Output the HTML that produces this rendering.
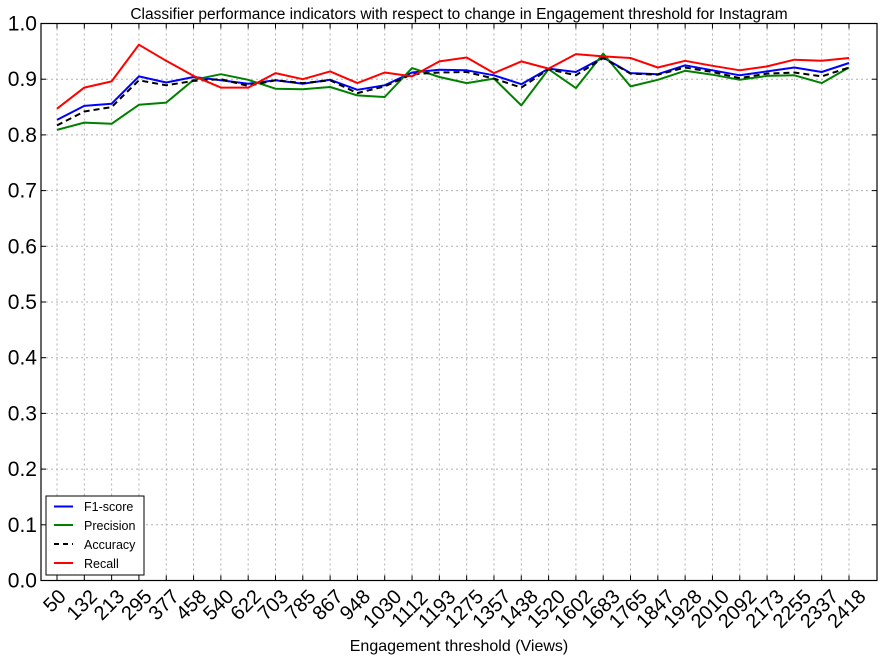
<!DOCTYPE html>
<html><head><meta charset="utf-8"><style>
body{margin:0;background:#fff;}
svg text{font-family:"Liberation Sans",sans-serif;}
</style></head><body>
<svg id="chart" width="884" height="660" xmlns="http://www.w3.org/2000/svg">
<rect width="884" height="660" fill="#fff"/>
<text x="459" y="19" font-size="15.5" text-anchor="middle">Classifier performance indicators with respect to change in Engagement threshold for Instagram</text>
<g id="grid"></g>
<g id="series"></g>
<rect x="41" y="23.5" width="836" height="557" fill="none" stroke="#000" stroke-width="1.2"/>
<g id="ticks"></g>
<text x="459" y="651" font-size="16" text-anchor="middle">Engagement threshold (Views)</text>
<g>
<rect x="46" y="496" width="98" height="79" fill="#fff" stroke="#000" stroke-width="1"/>
<line x1="54" y1="506.5" x2="73" y2="506.5" stroke="#0000ff" stroke-width="2"/>
<text x="84" y="511" font-size="12.5">F1-score</text>
<line x1="54" y1="525" x2="73" y2="525" stroke="#008000" stroke-width="2"/>
<text x="84" y="530" font-size="12.5">Precision</text>
<line x1="54" y1="544" x2="73" y2="544" stroke="#000" stroke-width="2" stroke-dasharray="5,4"/>
<text x="84" y="549" font-size="12.5">Accuracy</text>
<line x1="54" y1="563" x2="73" y2="563" stroke="#ff0000" stroke-width="2"/>
<text x="84" y="568" font-size="12.5">Recall</text>
</g>
</svg>
<script>
const categories=["50","132","213","295","377","458","540","622","703","785","867","948","1030","1112","1193","1275","1357","1438","1520","1602","1683","1765","1847","1928","2010","2092","2173","2255","2337","2418"];
const f1Values=[0.827,0.852,0.856,0.905,0.894,0.904,0.898,0.892,0.898,0.892,0.899,0.881,0.889,0.912,0.917,0.916,0.907,0.891,0.919,0.913,0.939,0.911,0.909,0.925,0.916,0.907,0.914,0.921,0.913,0.929];
const precisionValues=[0.809,0.822,0.820,0.854,0.858,0.899,0.909,0.899,0.883,0.882,0.886,0.871,0.868,0.920,0.904,0.893,0.901,0.853,0.918,0.884,0.946,0.887,0.899,0.915,0.908,0.899,0.906,0.907,0.893,0.921];
const accuracyValues=[0.817,0.842,0.850,0.898,0.889,0.897,0.900,0.888,0.898,0.893,0.898,0.875,0.887,0.909,0.912,0.913,0.901,0.885,0.918,0.907,0.938,0.910,0.908,0.921,0.913,0.902,0.910,0.912,0.905,0.921];
const recallValues=[0.847,0.885,0.896,0.962,0.933,0.906,0.885,0.885,0.911,0.900,0.914,0.893,0.912,0.905,0.932,0.939,0.911,0.932,0.919,0.945,0.941,0.938,0.921,0.933,0.924,0.916,0.923,0.935,0.933,0.938];
const yTicks=[0,0.1,0.2,0.3,0.4,0.5,0.6,0.7,0.8,0.9,1.0];
const yTickLabels=["0.0","0.1","0.2","0.3","0.4","0.5","0.6","0.7","0.8","0.9","1.0"];

const NS="http://www.w3.org/2000/svg";
const X0=41,X1=877,Y0=580.5,Y1=23.5;
const xMin=-0.586,xMax=30.025;
function xScale(i){return X0+(i-xMin)/(xMax-xMin)*(X1-X0);}
function yScale(v){return Y0-v*(Y0-Y1);}
function mk(tag,attrs,parent){const e=document.createElementNS(NS,tag);for(const k in attrs)e.setAttribute(k,attrs[k]);parent.appendChild(e);return e;}
const grid=document.getElementById('grid'),ticks=document.getElementById('ticks'),series=document.getElementById('series');
yTicks.forEach((v,i)=>{
  const y=yScale(v);
  if(v>0&&v<1){const g=mk('line',{x1:X0,x2:X1,y1:y,y2:y,stroke:'#b0b0b0','stroke-width':1,'stroke-dasharray':'2,3'},grid);
  
  }
  mk('line',{x1:X0,x2:X0+5,y1:y,y2:y,stroke:'#000'},ticks);
  mk('line',{x1:X1,x2:X1-5,y1:y,y2:y,stroke:'#000'},ticks);
  const t=mk('text',{x:X0-4,y:y+7,'font-size':21,'text-anchor':'end'},ticks);
  t.textContent=yTickLabels[i];
  
  
});
categories.forEach((c,i)=>{
  const x=xScale(i);
  const g=mk('line',{x1:x,x2:x,y1:Y1,y2:Y0,stroke:'#b0b0b0','stroke-width':1,'stroke-dasharray':'2,3'},grid);
  
  
  mk('line',{x1:x,x2:x,y1:Y0,y2:Y0-5,stroke:'#000'},ticks);
  mk('line',{x1:x,x2:x,y1:Y1,y2:Y1+5,stroke:'#000'},ticks);
  const w=c.length*11.3;
  const cy=588+(w*0.707+15*0.707)/2;
  const cx=x-2;
  const t=mk('text',{x:cx,y:cy,'font-size':20,'text-anchor':'middle','dominant-baseline':'central',transform:`rotate(-45 ${cx} ${cy})`},ticks);
  t.textContent=c;
  
  
});
function line(vals,color,name,dash){
  const d=vals.map((v,i)=>(i?'L':'M')+xScale(i).toFixed(1)+','+yScale(v).toFixed(1)).join(' ');
  const p=mk('path',{d:d,fill:'none',stroke:color,'stroke-width':2,'stroke-linejoin':'round'},series);
  if(dash)p.setAttribute('stroke-dasharray',dash);
  
  
}
line(f1Values,'#0000ff','f1-score-line');
line(precisionValues,'#008000','precision-line');
line(accuracyValues,'#000000','accuracy-line','6,4');
line(recallValues,'#ff0000','recall-line');
</script>
</body></html>
